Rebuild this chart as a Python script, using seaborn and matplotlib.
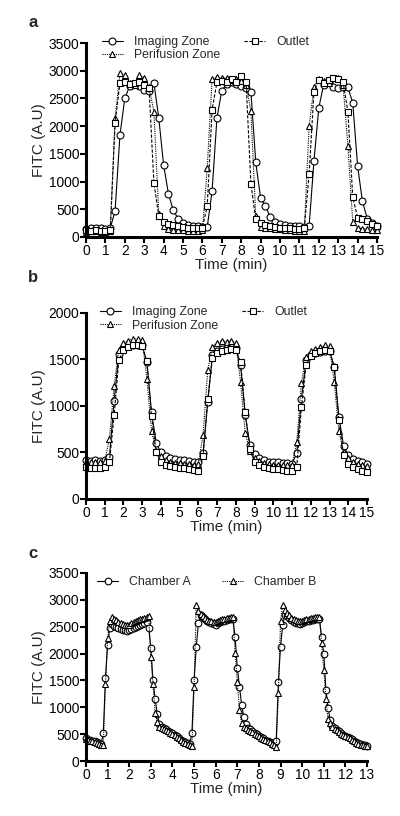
import seaborn as sns
import matplotlib.pyplot as plt
import numpy as np

sns.set_theme(style="ticks")
plt.rcParams['font.family'] = ['Liberation Sans', 'DejaVu Sans']

# Panel a: sampled every 0.25 min, 0-15 min
a_imaging = [150, 160, 160, 155, 150, 160,
             470, 1840, 2500, 2720, 2760, 2720, 2660, 2640, 2780, 2150,
             1300, 780, 480, 330, 260, 220, 200, 190, 180, 180,
             830, 2150, 2640, 2760, 2790, 2760, 2720, 2680, 2620, 1350,
             700, 560, 360, 270, 230, 210, 200, 195, 190, 185,
             190, 1370, 2330, 2750, 2800, 2700, 2680, 2700, 2700, 2420,
             1280, 640, 330, 250, 200]
a_perifusion = [90, 100, 100, 90, 95, 100,
                2150, 2950, 2920, 2780, 2750, 2930, 2860, 2700, 2260, 420,
                200, 140, 130, 120, 120, 115, 110, 110, 120, 1250,
                2850, 2880, 2860, 2870, 2830, 2850, 2820, 2750, 2270, 380,
                180, 170, 160, 150, 140, 130, 120, 110, 100, 100,
                2000, 2700, 2850, 2820, 2780, 2870, 2860, 2750, 1640, 270,
                160, 150, 150, 130, 120]
a_outlet = [120, 110, 120, 115, 110, 120,
            2060, 2780, 2790, 2760, 2780, 2800, 2750, 2680, 980, 380,
            270, 230, 220, 200, 180, 170, 160, 160, 170, 560,
            2300, 2790, 2820, 2800, 2850, 2800, 2900, 2800, 960, 320,
            250, 220, 200, 180, 170, 160, 160, 150, 150, 160,
            1130, 2620, 2840, 2780, 2830, 2860, 2850, 2800, 2260, 720,
            350, 330, 280, 230, 200]

# Panel b: sampled every 0.25 min, 0-15 min
b_imaging = [420, 410, 420, 410, 415,
             450, 1050, 1560, 1620, 1650, 1660, 1660, 1650, 1470, 930,
             600, 500, 460, 440, 430, 420, 420, 410, 400, 400,
             490, 1040, 1550, 1590, 1610, 1620, 1630, 1620, 1440, 900,
             580, 480, 440, 420, 400, 400, 400, 390, 390, 380,
             490, 1080, 1490, 1550, 1570, 1580, 1590, 1590, 1420, 880,
             570, 470, 430, 410, 400, 380]
b_perifusion = [400, 400, 395, 400, 410,
                650, 1210, 1600, 1680, 1700, 1720, 1720, 1710, 1290, 730,
                520, 460, 420, 400, 390, 390, 380, 380, 370, 380,
                690, 1390, 1630, 1680, 1700, 1690, 1700, 1680, 1260, 710,
                520, 440, 410, 390, 380, 370, 370, 360, 360, 370,
                610, 1250, 1530, 1590, 1610, 1630, 1650, 1640, 1260, 730,
                500, 440, 400, 380, 360, 350]
b_outlet = [340, 330, 330, 335, 340,
            400, 900, 1490, 1600, 1630, 1650, 1650, 1640, 1480, 890,
            500, 400, 370, 350, 340, 330, 330, 320, 310, 300,
            460, 1080, 1520, 1570, 1590, 1600, 1610, 1600, 1470, 930,
            540, 400, 360, 340, 330, 320, 320, 310, 300, 300,
            340, 990, 1440, 1540, 1570, 1590, 1600, 1590, 1420, 850,
            470, 380, 340, 320, 300, 290]

# Panel c: sampled every 0.1 min, 0-13 min
c_chamber_a = [420, 400, 390, 380, 370, 360, 340, 320,
               520, 1540, 2160, 2480, 2550, 2520, 2490, 2470, 2450, 2440,
               2430, 2420, 2430, 2450, 2470, 2490, 2510, 2530, 2550, 2570,
               2590, 2480, 2100, 1500, 1150, 880, 680, 640, 610, 590,
               560, 540, 520, 490, 460, 430, 400, 370, 350, 330,
               320, 520, 1500, 2120, 2560, 2720, 2680, 2640, 2600, 2580,
               2560, 2550, 2540, 2560, 2580, 2600, 2610, 2630, 2640, 2650,
               2640, 2300, 1730, 1380, 1040, 820, 680, 620, 590, 560,
               530, 500, 470, 440, 420, 400, 380, 360, 340, 320,
               380, 1470, 2130, 2530, 2720, 2700, 2660, 2620, 2590, 2570,
               2560, 2550, 2560, 2580, 2600, 2610, 2620, 2630, 2640, 2650,
               2640, 2310, 2000, 1320, 990, 760, 650, 610, 580, 550,
               520, 490, 470, 450, 430, 410, 380, 350, 330, 310,
               300, 290, 280]
c_chamber_b = [410, 390, 380, 370, 360, 340, 320, 300,
               290, 1430, 2290, 2600, 2680, 2650, 2620, 2590, 2570, 2550,
               2540, 2530, 2540, 2560, 2580, 2600, 2620, 2640, 2650, 2670,
               2690, 2700, 1940, 1430, 900, 730, 640, 610, 590, 570,
               550, 530, 510, 480, 450, 420, 390, 360, 330, 310,
               290, 280, 1380, 2900, 2800, 2740, 2700, 2660, 2630, 2610,
               2600, 2590, 2590, 2600, 2620, 2640, 2650, 2660, 2670, 2680,
               2680, 2010, 1470, 950, 700, 640, 610, 580, 560, 540,
               510, 490, 460, 430, 410, 390, 370, 350, 320, 290,
               260, 1260, 2600, 2900, 2820, 2760, 2710, 2670, 2640, 2620,
               2600, 2600, 2610, 2620, 2640, 2650, 2660, 2670, 2680, 2690,
               2690, 2200, 1700, 1150, 780, 700, 640, 600, 570, 540,
               510, 490, 470, 440, 420, 400, 370, 340, 320, 300,
               290, 280, 270]

SOLID = '-'
DOTTED = (0, (1, 1))
DASHED = (0, (3, 1.5))


def draw(ax, y, step, marker, ls, label, ms=5):
    t = np.arange(len(y)) * step
    sns.lineplot(x=t, y=y, ax=ax, color='black', linestyle=ls, linewidth=0.8,
                 marker=marker, markersize=ms, markerfacecolor='white',
                 markeredgecolor='black', markeredgewidth=0.8,
                 label=label, clip_on=False, sort=False)


def style(ax, xmax, ymax):
    ax.set_xlim(0, xmax)
    ax.set_ylim(0, ymax)
    ax.set_xticks(range(xmax + 1))
    ax.set_yticks(range(0, ymax + 1, 500))
    for s in ['top', 'right']:
        ax.spines[s].set_visible(False)
    for s in ['left', 'bottom']:
        ax.spines[s].set_linewidth(2.2)
        ax.spines[s].set_color('black')
    ax.tick_params(width=1.5, length=4, labelsize=9.9, pad=1, colors='black')
    ax.set_xlabel('Time (min)', fontsize=11, labelpad=0)
    ax.set_ylabel('FITC (A.U)', fontsize=11, labelpad=2)


fig = plt.figure(figsize=(4, 8.16), dpi=100)
ax_a = fig.add_axes([0.215, 0.7096, 0.7275, 0.2377])
ax_b = fig.add_axes([0.215, 0.3885, 0.7025, 0.228])
ax_c = fig.add_axes([0.215, 0.0674, 0.7025, 0.2304])

draw(ax_a, a_imaging, 0.25, 'o', SOLID, 'Imaging Zone')
draw(ax_a, a_perifusion, 0.25, '^', DOTTED, 'Perifusion Zone')
draw(ax_a, a_outlet, 0.25, 's', DASHED, 'Outlet')
style(ax_a, 15, 3500)

draw(ax_b, b_imaging, 0.25, 'o', SOLID, 'Imaging Zone')
draw(ax_b, b_perifusion, 0.25, '^', DOTTED, 'Perifusion Zone')
draw(ax_b, b_outlet, 0.25, 's', DASHED, 'Outlet')
style(ax_b, 15, 2000)

draw(ax_c, c_chamber_a, 0.1, 'o', SOLID, 'Chamber A', ms=4.8)
draw(ax_c, c_chamber_b, 0.1, '^', DOTTED, 'Chamber B', ms=4.8)
style(ax_c, 13, 3500)

leg_kw = dict(frameon=False, fontsize=8.8, handlelength=1.7, handletextpad=0.9,
              labelspacing=0.1, borderpad=0, borderaxespad=0, loc='upper left')
ax_a.legend(ncol=2, columnspacing=2.0, bbox_to_anchor=(0.055, 1.035), **leg_kw)
ax_b.legend(ncol=2, columnspacing=2.0, bbox_to_anchor=(0.05, 1.035), **leg_kw)
ax_c.legend(ncol=2, columnspacing=2.6, bbox_to_anchor=(0.04, 0.985), **leg_kw)

for letter, y in [('a', 0.972), ('b', 0.660), ('c', 0.322)]:
    fig.text(0.07, y, letter, fontsize=12, fontweight='bold', va='center')

fig.savefig('out.png', dpi=100)
